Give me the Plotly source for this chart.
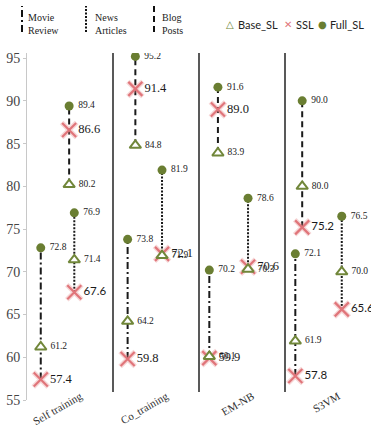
import plotly.graph_objects as go

# ---------------- data ----------------
groups = ["Self training", "Co_training", "EM-NB", "S3VM"]
datasets = ["Movie Review", "News Articles", "Blog Posts"]

full_sl = {
    "Movie Review": [72.8, 73.8, 70.2, 72.1],
    "News Articles": [76.9, 81.9, 78.6, 76.5],
    "Blog Posts": [89.4, 95.2, 91.6, 90.0],
}
base_sl = {
    "Movie Review": [61.2, 64.2, 60.1, 61.9],
    "News Articles": [71.4, 71.9, 70.3, 70.0],
    "Blog Posts": [80.2, 84.8, 83.9, 80.0],
}
ssl = {
    "Movie Review": [57.4, 59.8, 59.9, 57.8],
    "News Articles": [67.6, 72.1, 70.6, 65.6],
    "Blog Posts": [86.6, 91.4, 89.0, 75.2],
}
y_ticks = [55, 60, 65, 70, 75, 80, 85, 90, 95]

# ---------------- style ----------------
W, H = 378, 428
ML, MR, MT, MB = 27, 7, 53, 28
PW, PH = W - ML - MR, H - MT - MB

# horizontal placement of each dataset's column inside its group
offsets = {
    "Movie Review": [0.16, 0.17, 0.12, 0.12],
    "News Articles": [0.55, 0.57, 0.57, 0.66],
    "Blog Posts": [0.49, 0.26, 0.22, 0.20],
}
dashes = {
    "Movie Review": "7px,3px,2px,3px",
    "News Articles": "2px,1.5px",
    "Blog Posts": "6px,4px",
}
SERIF = "Liberation Serif, Times New Roman, serif"
SANS = "Lato, Open Sans, sans-serif"
ssl_sans = {
    "Movie Review": [False, False, False, True],
    "News Articles": [True, False, False, True],
    "Blog Posts": [False, False, False, True],
}
GREEN = "#6a7e32"
TRI = "#71873a"
RED = "#e0757a"


def px_x(px):
    return (px - ML) / PW


def px_y(py):
    return (H - MB - py) / PH


fig = go.Figure()

# connector lines
for d in datasets:
    xs, ys = [], []
    for i in range(len(groups)):
        x = i + offsets[d][i]
        vals = [full_sl[d][i], base_sl[d][i], ssl[d][i]]
        xs += [x, x, None]
        ys += [min(vals), max(vals), None]
    fig.add_trace(go.Scatter(x=xs, y=ys, mode="lines", showlegend=False,
                             hoverinfo="skip",
                             line=dict(color="#1a1a1a", width=2, dash=dashes[d])))

# markers
for d in datasets:
    xs = [i + offsets[d][i] for i in range(len(groups))]
    # SSL halo
    fig.add_trace(go.Scatter(x=xs, y=ssl[d], mode="markers", showlegend=False,
                             hoverinfo="skip",
                             marker=dict(symbol="x-thin", size=15,
                                         line=dict(color="rgba(230,140,140,0.35)", width=5))))
    fig.add_trace(go.Scatter(
        x=xs, y=ssl[d], mode="markers", name="SSL", showlegend=False,
        marker=dict(symbol="x-thin", size=14, line=dict(color=RED, width=2.2))))
    # SSL value labels
    fams = [SANS if s else SERIF for s in ssl_sans[d]]
    sizes = [11.5 if s else 12.5 for s in ssl_sans[d]]
    fig.add_trace(go.Scatter(
        x=xs, y=ssl[d], mode="markers+text", showlegend=False, hoverinfo="skip",
        text=["%.1f" % v for v in ssl[d]], textposition="middle right",
        textfont=dict(family=fams, size=sizes, color="#1a1a1a"),
        marker=dict(size=13, color="rgba(0,0,0,0)")))
    fig.add_trace(go.Scatter(
        x=xs, y=base_sl[d], mode="markers+text", name="Base_SL", showlegend=False,
        text=[" %.1f" % v for v in base_sl[d]], textposition="middle right",
        textfont=dict(family=SERIF, size=9.5, color="#222"),
        marker=dict(symbol="triangle-up", size=10, color="white",
                    line=dict(color=TRI, width=2))))
    fig.add_trace(go.Scatter(
        x=xs, y=full_sl[d], mode="markers+text", name="Full_SL", showlegend=False,
        text=[" %.1f" % v for v in full_sl[d]], textposition="middle right",
        textfont=dict(family=SERIF, size=9.5, color="#222"),
        marker=dict(symbol="circle", size=9, color=GREEN)))

# group separators
shapes = []
for i in range(1, len(groups)):
    shapes.append(dict(type="line", xref="x", yref="paper", x0=i, x1=i,
                       y0=px_y(392), y1=1.0, line=dict(color="#222", width=1.5)))

annotations = []
# line-style legend (vertical icons)
leg_lines = [("Movie<br>Review", 22, 26, dashes["Movie Review"]),
             ("News<br>Articles", 86, 93, dashes["News Articles"]),
             ("Blog<br>Posts", 154, 160, dashes["Blog Posts"])]
for txt, lx, tx, dsh in leg_lines:
    shapes.append(dict(type="line", xref="paper", yref="paper",
                       x0=px_x(lx), x1=px_x(lx), y0=px_y(32), y1=px_y(6),
                       line=dict(color="#111", width=2, dash=dsh)))
    annotations.append(dict(xref="paper", yref="paper", x=px_x(tx), y=px_y(10),
                            xanchor="left", yanchor="top", align="left",
                            text=txt, showarrow=False,
                            font=dict(family=SERIF, size=10, color="#222")))

# marker legend
mk_leg = [("△", TRI, 230, "Base_SL", 236), ("✕", RED, 288, "SSL", 294),
          ("●", GREEN, 322, "Full_SL", 328)]
for sym, col, sx, lab, lx in mk_leg:
    annotations.append(dict(xref="paper", yref="paper", x=px_x(sx), y=px_y(25),
                            xanchor="center", yanchor="middle", text=sym,
                            showarrow=False,
                            font=dict(family="DejaVu Sans", size=10, color=col)))
    annotations.append(dict(xref="paper", yref="paper", x=px_x(lx), y=px_y(25),
                            xanchor="left", yanchor="middle", text=lab,
                            showarrow=False,
                            font=dict(family=SANS, size=11, color="#222")))

fig.update_layout(
    width=W, height=H,
    margin=dict(l=ML, r=MR, t=MT, b=MB, autoexpand=False),
    paper_bgcolor="white", plot_bgcolor="white",
    showlegend=False,
    shapes=shapes, annotations=annotations,
    xaxis=dict(range=[0, 4], showgrid=False, zeroline=False, showline=False,
               tickmode="array", tickvals=[i + 0.62 for i in range(len(groups))],
               ticktext=groups, tickangle=-30, ticks="",
               ticklabelstandoff=-13,
               tickfont=dict(family=SERIF, size=11, color="#333"),
               automargin=False),
    yaxis=dict(range=[55, 95.6], showgrid=False, zeroline=False,
               showline=True, linecolor="#c8c8c8", linewidth=1,
               tickmode="array", tickvals=y_ticks, ticks="outside", ticklen=3,
               tickcolor="#c8c8c8",
               tickfont=dict(family=SERIF, size=14, color="#444"),
               automargin=False),
)

fig.write_html("out.html")
